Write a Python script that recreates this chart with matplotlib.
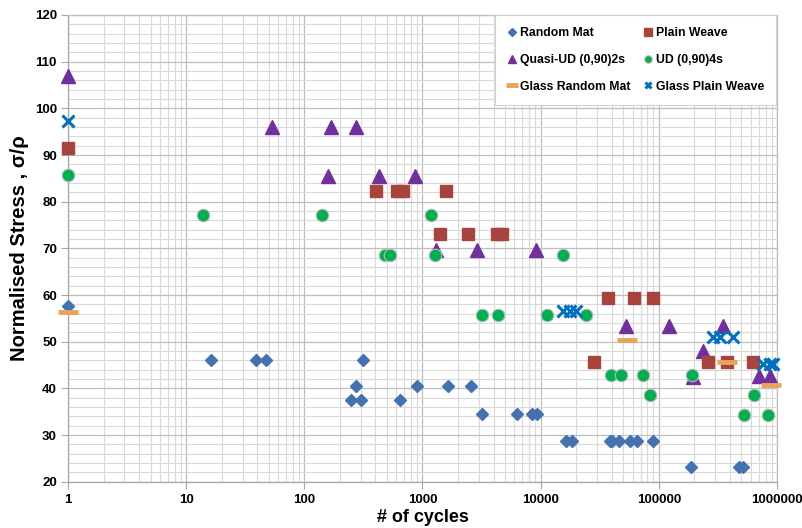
import matplotlib.pyplot as plt
from matplotlib.ticker import FixedLocator, LogLocator, MultipleLocator, NullFormatter, FuncFormatter

plt.rcParams['font.family'] = ['Liberation Sans', 'DejaVu Sans']
plt.rcParams['font.weight'] = 'bold'

# cycles to failure / normalised stress for each laminate
rm_n = [1, 16.2, 39, 47, 246, 273, 302, 315, 644, 890, 1640, 2583, 3160, 6250, 8380, 9230,
        16240, 18250, 38500, 40500, 46100, 56900, 66000, 89500, 188800, 480000, 520000]
rm_s = [57.7, 46.1, 46.1, 46.1, 37.4, 40.4, 37.4, 46.1, 37.4, 40.4, 40.4, 40.4, 34.6, 34.6, 34.6, 34.6,
        28.8, 28.8, 28.8, 28.8, 28.8, 28.8, 28.8, 28.8, 23.1, 23.1, 23.1]

pw_n = [1, 408, 603, 680, 1567, 1403, 2437, 4236, 4697, 28200, 37500, 61800, 88500, 261000, 378000, 628000]
pw_s = [91.4, 82.2, 82.2, 82.2, 82.2, 73.0, 73.0, 73.0, 73.0, 45.6, 59.3, 59.3, 59.3, 45.6, 45.6, 45.6]

qud_n = [1, 53.5, 168, 275, 160, 425, 857, 1300, 2902, 9060, 53000, 121600, 196000, 237000, 350000, 707000, 870000]
qud_s = [107.0, 96.1, 96.1, 96.1, 85.4, 85.4, 85.4, 69.6, 69.6, 69.6, 53.4, 53.4, 42.5, 48.1, 53.4, 42.7, 42.7]

ud_n = [1, 13.8, 142, 484, 530, 1170, 1273, 3162, 4345, 11220, 15500, 24000, 39300, 47700, 72800,
        84000, 192700, 527000, 637000, 841000]
ud_s = [85.7, 77.1, 77.1, 68.6, 68.6, 77.1, 68.6, 55.7, 55.7, 55.7, 68.6, 55.7, 42.9, 42.9, 42.9,
        38.6, 42.9, 34.3, 38.6, 34.3]

grm_n = [1, 53700, 375000, 898000]
grm_s = [56.4, 50.4, 45.7, 40.7]

gpw_n = [1, 15500, 17800, 20000, 288000, 328000, 425000, 760000, 870000, 930000]
gpw_s = [97.3, 56.6, 56.6, 56.6, 50.9, 50.9, 50.9, 45.2, 45.2, 45.2]

fig = plt.figure(figsize=(8.02, 5.28), dpi=100)
ax = fig.add_axes([0.0848, 0.0877, 0.8840, 0.8839])

kw = dict(linestyle='none', clip_on=False)
rm, = ax.plot(rm_n, rm_s, 'D', ms=6.6, color='#4472B0', mec='#4472B0', label='Random Mat', zorder=3, **kw)
qud, = ax.plot(qud_n, qud_s, '^', ms=9.5, color='#7030A0', mec='#7030A0', label='Quasi-UD (0,90)2s', zorder=3, **kw)
grm, = ax.plot(grm_n, grm_s, '_', ms=15, mew=3.5, color='#E9A45A', label='Glass Random Mat', zorder=4, **kw)
pw, = ax.plot(pw_n, pw_s, 's', ms=9, color='#A8433E', mec='#A8433E', label='Plain Weave', zorder=3, **kw)
ud, = ax.plot(ud_n, ud_s, 'o', ms=9, color='#00B050', mec='#B8B8B8', mew=0.8, label='UD (0,90)4s', zorder=3, **kw)
gpw, = ax.plot(gpw_n, gpw_s, 'x', ms=8, mew=2.2, color='#0070C0', label='Glass Plain Weave', zorder=5, **kw)

ax.set_xscale('log')
ax.set_xlim(1, 1e6)
ax.set_ylim(20, 120)

ax.xaxis.set_major_locator(FixedLocator([1, 10, 100, 1e3, 1e4, 1e5, 1e6]))
ax.xaxis.set_major_formatter(FuncFormatter(lambda v, p: f"{int(round(v))}"))
ax.xaxis.set_minor_locator(LogLocator(base=10, subs=range(2, 10), numticks=20))
ax.xaxis.set_minor_formatter(NullFormatter())
ax.yaxis.set_major_locator(MultipleLocator(10))
ax.yaxis.set_minor_locator(MultipleLocator(2))

ax.grid(which='major', color='#BEBEBE', lw=0.9)
ax.grid(which='minor', color='#D9D9D9', lw=0.8)
ax.set_axisbelow(True)
for s in ax.spines.values():
    s.set_color('#A6A6A6')
    s.set_linewidth(0.9)
ax.spines['top'].set_color('#BEBEBE')
ax.spines['right'].set_color('#BEBEBE')

ax.tick_params(which='major', length=5, color='#A6A6A6', labelsize=9.5, pad=3)
ax.tick_params(which='minor', length=0)
ax.tick_params(axis='x', pad=4)
for lbl in ax.get_xticklabels() + ax.get_yticklabels():
    lbl.set_fontweight('bold')

ax.set_xlabel('# of cycles', fontsize=13, fontweight='bold', labelpad=2)
ax.set_ylabel('Normalised Stress , σ/ρ', fontsize=14.5, fontweight='bold', labelpad=4)

leg = ax.legend(handles=[rm, qud, grm, pw, ud, gpw], ncol=2, loc='upper right',
                bbox_to_anchor=(0.999, 1.0), borderaxespad=0, markerscale=0.6,
                handlelength=0.7, handletextpad=0.3, columnspacing=1.1,
                labelspacing=1.2, borderpad=1.0, fancybox=False, framealpha=1,
                edgecolor='#D0D0D0', prop={'weight': 'bold', 'size': 8.8})
leg.get_frame().set_linewidth(0.8)

fig.savefig('out.png', dpi=100)
